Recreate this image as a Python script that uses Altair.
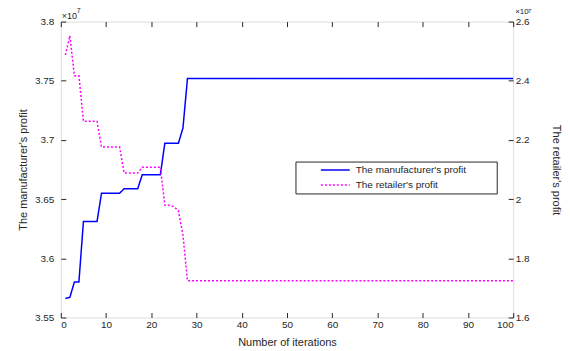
import altair as alt
import pandas as pd

# ---- data ----
iterations = list(range(1, 29)) + [100]
manufacturer = [3.566, 3.567, 3.580, 3.580, 3.631, 3.631, 3.631, 3.631, 3.655, 3.655,
                3.655, 3.655, 3.655, 3.6588, 3.6588, 3.6588, 3.6588, 3.6706, 3.6706, 3.6706,
                3.6706, 3.6706, 3.6973, 3.6973, 3.6973, 3.6973, 3.710, 3.752, 3.752]
retailer = [2.487, 2.552, 2.417, 2.417, 2.263, 2.263, 2.263, 2.263, 2.176, 2.176,
            2.176, 2.176, 2.176, 2.088, 2.088, 2.088, 2.088, 2.108, 2.108, 2.108,
            2.108, 2.108, 1.979, 1.979, 1.975, 1.960, 1.879, 1.724, 1.724]
x_ticks = [0, 10, 20, 30, 40, 50, 60, 70, 80, 90, 100]
left_ticks = [3.55, 3.6, 3.65, 3.7, 3.75, 3.8]
right_ticks = [1.6, 1.8, 2.0, 2.2, 2.4, 2.6]
series_names = ["The manufacturer's profit", "The retailer's profit"]
series_colors = ["#0000FF", "#FF00FF"]

FONT = "Liberation Sans"
TXT = "#262626"

dm = pd.DataFrame({"it": iterations, "v": manufacturer, "series": series_names[0]})
dr = pd.DataFrame({"it": iterations, "v": retailer, "series": series_names[1]})

W, H = 454, 297

legend_cfg = dict(orient="none", legendX=260, legendY=142.5, title=None,
                  symbolType="stroke", symbolSize=841, symbolStrokeWidth=1.5,
                  padding=0, symbolOffset=0,
                  labelFont=FONT, labelFontSize=10, labelColor=TXT,
                  labelOffset=5, rowPadding=2, clipHeight=13)
color = alt.Color("series:N",
                  scale=alt.Scale(domain=series_names, range=series_colors),
                  legend=alt.Legend(**legend_cfg))
dash = alt.StrokeDash("series:N",
                      scale=alt.Scale(domain=series_names, range=[[1, 0], [2, 2]]),
                      legend=alt.Legend(**legend_cfg))

xscale = alt.Scale(domain=[0, 100], nice=False)
common_axis = dict(offset=-5, tickSize=5, domain=False, grid=False, tickColor=TXT,
                   labelFont=FONT, labelFontSize=10, labelColor=TXT,
                   titleFont=FONT, titleFontSize=11, titleColor=TXT,
                   titleFontWeight="normal")

left_line = alt.Chart(dm).mark_line(strokeWidth=1.5).encode(
    x=alt.X("it:Q", scale=xscale,
            axis=alt.Axis(orient="bottom", values=x_ticks, title="Number of iterations",
                          labelPadding=2, titlePadding=7, **common_axis)),
    y=alt.Y("v:Q", scale=alt.Scale(domain=[3.55, 3.8], nice=False, zero=False),
            axis=alt.Axis(orient="left", values=left_ticks, format=".2~f",
                          title="The manufacturer's profit", labelPadding=7,
                          titlePadding=6, **common_axis)),
    color=color, strokeDash=dash,
)

right_line = alt.Chart(dr).mark_line(strokeWidth=1.5).encode(
    x=alt.X("it:Q", scale=xscale,
            axis=alt.Axis(orient="top", values=x_ticks, labels=False, title=None,
                          **common_axis)),
    y=alt.Y("v:Q", scale=alt.Scale(domain=[1.6, 2.6], nice=False, zero=False),
            axis=alt.Axis(orient="right", values=right_ticks, format=".1~f",
                          title="The retailer's profit", labelPadding=2,
                          titlePadding=22, **common_axis)),
    color=color, strokeDash=dash,
)

one = pd.DataFrame({"t": ["×10"], "e": ["7"]})

def label(field, size, x, y):
    return alt.Chart(one).mark_text(font=FONT, fontSize=size, color=TXT, align="left",
                                    baseline="middle").encode(
        x=alt.value(x), y=alt.value(y), text=f"{field}:N")

legend_box = alt.Chart(one).mark_rect(fill="white", stroke=TXT, strokeWidth=1).encode(
    x=alt.value(236), x2=alt.value(438), y=alt.value(141), y2=alt.value(173))

left = alt.layer(legend_box, left_line,
                 label("t", 9, 1, -6), label("e", 7, 16, -10.5),
                 label("t", 8, 456, -9.5), label("e", 6, 469, -11))

chart = alt.layer(left, right_line).resolve_scale(
    y="independent"
).resolve_axis(
    x="independent", y="independent"
).properties(
    width=W, height=H,
    autosize=alt.AutoSizeParams(type="none"),
    padding={"left": 53, "top": 13, "right": 49, "bottom": 32},
).configure_view(
    stroke=TXT, strokeWidth=1
).configure(background="white")

chart.save("out.html", embed_options={"renderer": "svg", "actions": False})
